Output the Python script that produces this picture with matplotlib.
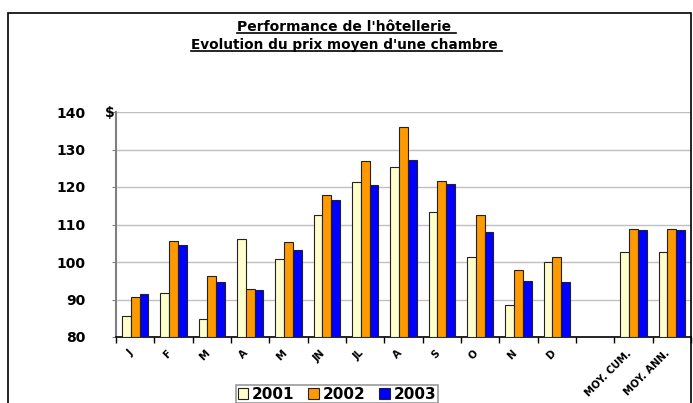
import matplotlib
matplotlib.use("Agg")
import matplotlib.pyplot as plt
import numpy as np
from matplotlib.lines import Line2D
from matplotlib.patches import Rectangle

categories = ["J", "F", "M", "A", "M", "JN", "JL", "A", "S", "O", "N", "D",
              "", "MOY. CUM.", "MOY. ANN."]
years = ["2001", "2002", "2003"]
v2001 = [85.5, 91.8, 84.9, 106.2, 100.9, 112.5, 121.3, 125.3, 113.3, 101.4, 88.6, 99.9,
         np.nan, 102.7, 102.7]
v2002 = [90.7, 105.7, 96.2, 92.7, 105.4, 117.9, 127.0, 136.0, 121.7, 112.6, 97.8, 101.3,
         np.nan, 108.8, 108.8]
v2003 = [91.5, 104.6, 94.6, 92.6, 103.3, 116.5, 120.4, 127.2, 120.8, 107.9, 95.0, 94.8,
         np.nan, 108.4, 108.4]
colors = ["#FFFFCC", "#FF9900", "#0000FF"]

plt.rcParams["font.family"] = ["DejaVu Sans"]

fig = plt.figure(figsize=(6.93, 4.03), dpi=100)
ax = fig.add_axes([116 / 693, 1 - 337 / 403, 575 / 693, 225 / 403])

x = np.arange(len(categories))
w = 0.228
for i, (vals, col) in enumerate(zip([v2001, v2002, v2003], colors)):
    ax.bar(x + (i - 1) * w, np.array(vals) - 80, w, bottom=80, color=col,
           edgecolor="#222222", linewidth=0.8, label=years[i], zorder=3)

ax.set_xlim(-0.5, len(categories) - 0.5)
ax.set_ylim(80, 140)
ax.set_yticks([80, 90, 100, 110, 120, 130, 140])
ax.set_yticklabels(["80", "90", "100", "110", "120", "130", "140"],
                   fontsize=10, fontweight="bold")
ax.yaxis.grid(True, color="#C0C0C0", linewidth=1, zorder=0)
ax.set_axisbelow(True)

# boundary ticks; labels sit a bit left of the category centre (like Excel)
ax.set_xticks(np.arange(len(categories) + 1) - 0.5)
ax.set_xticklabels([])
ax.set_xticks(x - 0.18, minor=True)
ax.set_xticklabels(categories, minor=True, rotation=45, ha="right",
                   rotation_mode="anchor", fontsize=7.3, fontweight="bold")
ax.tick_params(axis="x", which="major", length=4, width=1, color="black")
ax.tick_params(axis="x", which="minor", length=0, pad=8)
ax.tick_params(axis="y", length=3, color="#808080", pad=19)

for s in ["top", "right"]:
    ax.spines[s].set_visible(False)
ax.spines["left"].set_color("#808080")
ax.spines["left"].set_linewidth(1.5)
ax.spines["bottom"].set_color("black")
ax.spines["bottom"].set_linewidth(1.2)

fig.text(115 / 693, 1 - 113 / 403, "$", fontsize=10, fontweight="bold",
         ha="right", va="center")

leg = ax.legend(loc="upper left", bbox_to_anchor=(236 / 693, 1 - 385 / 403),
                bbox_transform=fig.transFigure, ncol=3, frameon=True,
                fancybox=False, edgecolor="#808080", handlelength=0.7,
                handleheight=0.7, handletextpad=0.25, columnspacing=0.9,
                borderpad=0.1, borderaxespad=0,
                prop={"size": 11, "weight": "bold"})
leg.get_frame().set_linewidth(1.2)

# outer frame
fig.add_artist(Rectangle((8 / 693, -0.1), 683 / 693, 1.1 - 13 / 403,
                         transform=fig.transFigure, fill=False,
                         edgecolor="black", linewidth=1.2))

t1 = fig.text(0.5, 1 - 27 / 403, "Performance de l'hôtellerie ", fontsize=10,
              fontweight="bold", ha="center", va="center")
t2 = fig.text(0.5, 1 - 45 / 403, "Evolution du prix moyen d'une chambre ",
              fontsize=9.8, fontweight="bold", ha="center", va="center")

fig.canvas.draw()
r = fig.canvas.get_renderer()
for t in (t1, t2):
    bb = t.get_window_extent(r).transformed(fig.transFigure.inverted())
    y = bb.y0 + 0.002
    fig.add_artist(Line2D([bb.x0, bb.x1], [y, y], transform=fig.transFigure,
                          color="black", linewidth=1.2))

fig.savefig("out.png", dpi=100)
